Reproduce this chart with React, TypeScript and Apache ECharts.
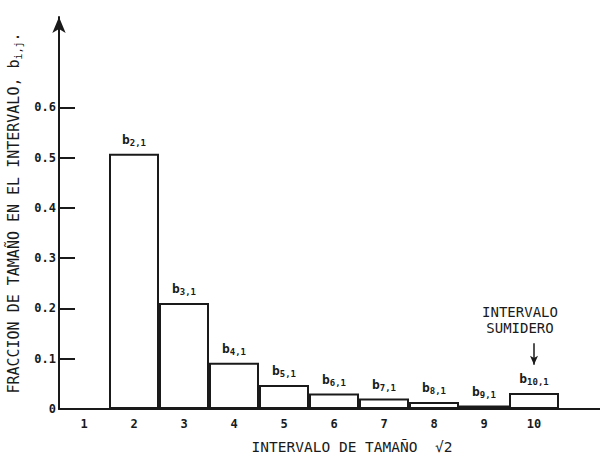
import React, { useEffect, useRef } from "react";
import * as echarts from "echarts";

const categories = ["1", "2", "3", "4", "5", "6", "7", "8", "9", "10", ""];
const values = [0, 0.508, 0.211, 0.092, 0.048, 0.031, 0.021, 0.014, 0.007, 0.032, null];
const barSubscripts = ["", "2,1", "3,1", "4,1", "5,1", "6,1", "7,1", "8,1", "9,1", "10,1", ""];
const yTicks = [0, 0.1, 0.2, 0.3, 0.4, 0.5, 0.6];
const yTickLabels = ["0", "0.1", "0.2", "0.3", "0.4", "0.5", "0.6"];
const sinkCategory = "10";
const sinkArrow = [0.131, 0.088];
const sinkText = "INTERVALO\nSUMIDERO";

const INK = "#1a1a1a";
const MONO = "'DejaVu Sans Mono', monospace";

export default function App() {
  const ref = useRef<HTMLDivElement>(null);
  useEffect(() => {
    if (!ref.current) return;
    const chart = echarts.init(ref.current, null, { renderer: "svg" });
    chart.setOption({
      animation: false,
      backgroundColor: "#fff",
      grid: { left: 59, top: 17, bottom: 50, width: 550, containLabel: false, outerBoundsMode: "none" },
      xAxis: {
        type: "category",
        data: categories,
        boundaryGap: true,
        axisLine: { lineStyle: { color: INK, width: 2 } },
        axisTick: { show: false },
        axisLabel: { color: INK, fontFamily: MONO, fontWeight: "bold", fontSize: 12, margin: 9 },
        name: "INTERVALO DE TAMAÑO  √2",
        nameLocation: "middle",
        nameGap: 30,
        nameTextStyle: { color: INK, fontFamily: MONO, fontSize: 14.5, padding: [0, 0, 0, 36] },
      },
      yAxis: {
        type: "value",
        min: 0,
        max: 0.78,
        splitLine: { show: false },
        axisLine: {
          show: true,
          symbol: ["none", "arrow"],
          symbolSize: [10, 16],
          lineStyle: { color: INK, width: 2 },
        },
        axisTick: { show: true, inside: true, length: 16, customValues: yTicks, lineStyle: { color: INK, width: 2 } },
        axisLabel: {
          customValues: yTicks,
          formatter: (v: number) => yTickLabels[yTicks.findIndex((t) => Math.abs(t - v) < 1e-6)] ?? "",
          color: INK,
          fontFamily: MONO,
          fontWeight: "bold",
          fontSize: 12,
          margin: 3,
        },
        name: "FRACCION DE TAMAÑO EN EL INTERVALO, {b|b}{s|i,j}.",
        nameLocation: "middle",
        nameRotate: 90,
        nameGap: 36,
        nameTextStyle: {
          color: INK,
          fontFamily: MONO,
          fontSize: 15,
          lineHeight: 18,
          rich: {
            b: { fontFamily: MONO, fontSize: 15, color: INK, lineHeight: 18 },
            s: { fontFamily: MONO, fontSize: 10, color: INK, lineHeight: 18, verticalAlign: "bottom" },
          },
        },
      },
      series: [
        {
          type: "bar",
          data: values,
          barWidth: "100%",
          itemStyle: { color: "#fff", borderColor: INK, borderWidth: 2 },
          label: {
            show: true,
            position: "top",
            distance: 6,
            formatter: (p: any) => (barSubscripts[p.dataIndex] ? `{b|b}{s|${barSubscripts[p.dataIndex]}}` : ""),
            rich: {
              b: { fontFamily: MONO, fontWeight: "bold", fontSize: 13, color: INK, lineHeight: 16 },
              s: { fontFamily: MONO, fontWeight: "bold", fontSize: 9, color: INK, lineHeight: 16, verticalAlign: "bottom" },
            },
          },
          markLine: {
            silent: true,
            symbol: ["none", "arrow"],
            symbolSize: [6, 9],
            lineStyle: { color: INK, width: 1.5, type: "solid" },
            label: {
              show: true,
              position: "start",
              formatter: sinkText,
              color: INK,
              fontFamily: MONO,
              fontSize: 14,
              lineHeight: 16,
              align: "center",
              offset: [-14, -2],
            },
            data: [
              [
                { coord: [sinkCategory, sinkArrow[0]] },
                { coord: [sinkCategory, sinkArrow[1]] },
              ],
            ],
          },
        },
      ],
    });
    return () => chart.dispose();
  }, []);
  return (
    <div
      ref={ref}
      style={{ position: "fixed", left: 0, top: 0, width: 600, height: 459, background: "#fff" }}
    />
  );
}
